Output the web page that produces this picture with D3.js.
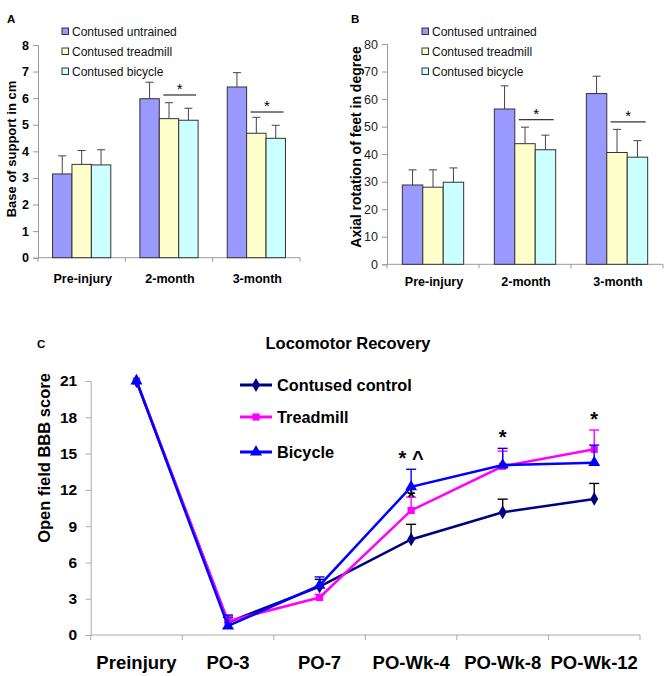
<!DOCTYPE html>
<html><head><meta charset="utf-8">
<script src="https://cdn.jsdelivr.net/npm/d3@7"></script>
<style>body{margin:0;background:#fff}svg{display:block}text{font-family:Arial,"Liberation Sans",sans-serif}</style>
</head><body>
<svg id="c" width="669" height="676"></svg>
<script>
// ---------- data ----------
const barCategories = ["Pre-injury", "2-month", "3-month"];
const barSeries = ["Contused untrained", "Contused treadmill", "Contused bicycle"];
const barColors = ["#9999FF", "#FFFFCC", "#CCFFFF"];

// Panel A: base of support (cm)
const supportUntrained = [3.15, 5.98, 6.42];
const supportUntrainedErr = [0.68, 0.62, 0.54];
const supportTreadmill = [3.51, 5.23, 4.68];
const supportTreadmillErr = [0.52, 0.60, 0.60];
const supportBicycle = [3.49, 5.17, 4.49];
const supportBicycleErr = [0.57, 0.45, 0.49];
const supportTicks = [0, 1, 2, 3, 4, 5, 6, 7, 8];
const supportSig = [{cat: "2-month", y: 6.12}, {cat: "3-month", y: 5.48}];

// Panel B: axial rotation of feet (degree)
const rotationUntrained = [28.8, 56.4, 62.0];
const rotationUntrainedErr = [5.5, 8.4, 6.3];
const rotationTreadmill = [28.0, 43.8, 40.6];
const rotationTreadmillErr = [6.3, 6.0, 8.4];
const rotationBicycle = [29.8, 41.6, 38.9];
const rotationBicycleErr = [5.2, 5.3, 6.0];
const rotationTicks = [0, 10, 20, 30, 40, 50, 60, 70, 80];
const rotationSig = [{cat: "2-month", y: 52.5}, {cat: "3-month", y: 51.7}];

// Panel C: BBB score
const timepoints = ["Preinjury", "PO-3", "PO-7", "PO-Wk-4", "PO-Wk-8", "PO-Wk-12"];
const lineSeries = ["Contused control", "Treadmill", "Bicycle"];
const lineColors = ["#000080", "#FF00FF", "#0000FF"];
const controlScore = [21, 1.05, 4.0, 7.9, 10.15, 11.25];
const controlErr = [0, 0.4, 0.6, 1.25, 1.08, 1.28];
const treadmillScore = [21, 1.15, 3.1, 10.3, 13.95, 15.35];
const treadmillErr = [0, 0.4, 0.25, 1.1, 1.25, 1.6];
const bicycleScore = [21, 0.75, 4.1, 12.25, 14.05, 14.25];
const bicycleErr = [0, 0.9, 0.7, 1.45, 1.38, 1.45];
const bbbTicks = [0, 3, 6, 9, 12, 15, 18, 21];
const bbbMarks = [
  {t: "PO-Wk-4", text: "* ^", v: 14.07},
  {t: "PO-Wk-4", text: "*", v: 10.82},
  {t: "PO-Wk-8", text: "*", v: 15.78},
  {t: "PO-Wk-12", text: "*", v: 17.32}
];

const svg = d3.select("#c");
const FONT = 'Arial,"Liberation Sans",sans-serif';

// ---------- bar panel ----------
function barPanel(o) {
  const g = svg.append("g");
  const x = d3.scaleBand().domain(barCategories).range([o.x0, o.x1]).padding(0);
  const bw = x.bandwidth();
  const inner = d3.scaleBand().domain(barSeries).range([bw / 6, bw * 5 / 6]).padding(0);
  const y = d3.scaleLinear().domain([0, o.max]).range([o.yb, o.yt]);

  const ya = g.append("g").attr("transform", `translate(${o.x0},0)`)
    .call(d3.axisLeft(y).tickValues(o.ticks).tickSize(5).tickPadding(4).tickFormat(d3.format("d")));
  ya.select(".domain").attr("stroke", "#999");
  ya.selectAll(".tick line").attr("stroke", "#999");
  ya.selectAll(".tick text").attr("font-size", 12.5).attr("font-weight", o.tickWeight)
    .attr("fill", o.tickWeight === "bold" ? "#000" : "#222").style("font-family", FONT);

  const bounds = barCategories.map(c => x(c)).concat([o.x1]);
  g.append("line").attr("x1", o.x0).attr("x2", o.x1).attr("y1", o.yb).attr("y2", o.yb).attr("stroke", "#999");
  g.selectAll(".xt").data(bounds).join("line").attr("x1", d => d).attr("x2", d => d)
    .attr("y1", o.yb).attr("y2", o.yb + 4).attr("stroke", "#999");
  g.selectAll(".xl").data(barCategories).join("text")
    .attr("x", d => x(d) + bw / 2 + 1).attr("y", o.labelY).attr("text-anchor", "middle")
    .attr("font-size", 12.5).attr("font-weight", "bold").text(d => d);

  o.series.forEach((s, si) => {
    const name = barSeries[si];
    const gs = g.append("g");
    gs.selectAll("rect").data(s.vals).join("rect")
      .attr("x", (d, i) => x(barCategories[i]) + inner(name))
      .attr("y", d => y(d)).attr("width", inner.bandwidth()).attr("height", d => o.yb - y(d))
      .attr("fill", barColors[si]).attr("stroke", "#333").attr("stroke-width", 1);
    s.vals.forEach((v, i) => {
      const cx = x(barCategories[i]) + inner(name) + inner.bandwidth() / 2;
      const top = y(v + s.err[i]);
      gs.append("line").attr("x1", cx).attr("x2", cx).attr("y1", y(v)).attr("y2", top).attr("stroke", "#444");
      gs.append("line").attr("x1", cx - 4).attr("x2", cx + 4).attr("y1", top).attr("y2", top).attr("stroke", "#444");
    });
  });

  o.sig.forEach(sg => {
    const l = x(sg.cat) + inner(barSeries[1]) + 4;
    const r = x(sg.cat) + inner(barSeries[2]) + inner.bandwidth() - 2;
    g.append("line").attr("x1", l).attr("x2", r).attr("y1", y(sg.y)).attr("y2", y(sg.y)).attr("stroke", "#000");
    g.append("text").attr("x", (l + r) / 2).attr("y", y(sg.y) - 1).attr("text-anchor", "middle")
      .attr("font-size", 15).text("*");
  });

  barSeries.forEach((s, i) => {
    g.append("rect").attr("x", o.legX).attr("y", 28 + i * 20).attr("width", 6.5).attr("height", 6.5)
      .attr("fill", barColors[i]).attr("stroke", "#333");
    g.append("text").attr("x", o.legX + 10).attr("y", 35.5 + i * 20).attr("font-size", 12).attr("fill", "#111").text(s);
  });

  g.append("text").attr("x", o.panelX).attr("y", 23).attr("font-size", 11.5).attr("font-weight", "bold").text(o.panel);
  g.append("text").attr("transform", `translate(${o.ylabX},${o.ylabY}) rotate(-90)`).attr("text-anchor", "middle")
    .attr("font-size", o.ylabSize).attr("font-weight", "bold").text(o.ylabel);
}

barPanel({
  panel: "A", panelX: 7, x0: 38, x1: 300, yb: 257.7, yt: 45, max: 8, ticks: supportTicks, tickWeight: "bold",
  labelY: 283, legX: 62, ylabX: 16, ylabY: 149, ylabSize: 13, ylabel: "Base of support in cm",
  sig: supportSig,
  series: [{vals: supportUntrained, err: supportUntrainedErr}, {vals: supportTreadmill, err: supportTreadmillErr}, {vals: supportBicycle, err: supportBicycleErr}]
});
barPanel({
  panel: "B", panelX: 351, x0: 387, x1: 663, yb: 264.3, yt: 44, max: 80, ticks: rotationTicks, tickWeight: "normal",
  labelY: 286, legX: 422, ylabX: 361, ylabY: 147, ylabSize: 14, ylabel: "Axial rotation of feet in degree",
  sig: rotationSig,
  series: [{vals: rotationUntrained, err: rotationUntrainedErr}, {vals: rotationTreadmill, err: rotationTreadmillErr}, {vals: rotationBicycle, err: rotationBicycleErr}]
});

// ---------- line panel ----------
(function () {
  const g = svg.append("g");
  const x0 = 90.7, x1 = 640, yb = 635, yt = 381;
  const x = d3.scaleBand().domain(timepoints).range([x0, x1]).padding(0);
  const bw = x.bandwidth();
  const cx = t => x(t) + bw / 2;
  const y = d3.scaleLinear().domain([0, 21]).range([yb, yt]);

  const ya = g.append("g").attr("transform", `translate(${x0},0)`)
    .call(d3.axisLeft(y).tickValues(bbbTicks).tickSize(5).tickPadding(8.5));
  ya.select(".domain").attr("stroke", "#aaa");
  ya.selectAll(".tick line").attr("stroke", "#aaa");
  ya.selectAll(".tick text").attr("font-size", 15.5).attr("font-weight", "bold").attr("fill", "#000").style("font-family", FONT);

  const bounds = timepoints.map(t => x(t)).concat([x1]);
  g.append("line").attr("x1", x0).attr("x2", x1).attr("y1", yb).attr("y2", yb).attr("stroke", "#aaa");
  g.selectAll(".xt").data(bounds).join("line").attr("x1", d => d).attr("x2", d => d)
    .attr("y1", yb).attr("y2", yb + 5).attr("stroke", "#aaa");
  g.selectAll(".xl").data(timepoints).join("text")
    .attr("x", d => cx(d)).attr("y", 669).attr("text-anchor", "middle")
    .attr("font-size", 18.5).attr("font-weight", "bold").text(d => d);

  const series = [
    {vals: controlScore, err: controlErr, sym: d3.symbolDiamond, size: 55},
    {vals: treadmillScore, err: treadmillErr, sym: d3.symbolSquare, size: 52},
    {vals: bicycleScore, err: bicycleErr, sym: d3.symbolTriangle, size: 62}
  ];
  const line = d3.line().x((d, i) => cx(timepoints[i])).y(d => y(d));
  series.forEach((s, si) => {
    const col = lineColors[si];
    const gs = g.append("g");
    s.vals.forEach((v, i) => {
      if (s.err[i] <= 0) return;
      const px = cx(timepoints[i]), top = y(v + s.err[i]);
      const ec = si === 0 ? "#000" : col;
      gs.append("line").attr("x1", px).attr("x2", px).attr("y1", y(v)).attr("y2", top).attr("stroke", ec).attr("stroke-width", 1.4);
      gs.append("line").attr("x1", px - 5).attr("x2", px + 5).attr("y1", top).attr("y2", top).attr("stroke", ec).attr("stroke-width", 1.4);
    });
    gs.append("path").datum(s.vals).attr("d", line).attr("fill", "none").attr("stroke", col).attr("stroke-width", 2.5);
    gs.selectAll("path.m").data(s.vals).join("path").attr("class", "m")
      .attr("transform", (d, i) => `translate(${cx(timepoints[i])},${y(d)})`)
      .attr("d", d3.symbol().type(s.sym).size(s.size)).attr("fill", col);
  });

  bbbMarks.forEach(m => {
    g.append("text").attr("x", cx(m.t)).attr("y", y(m.v)).attr("text-anchor", "middle")
      .attr("font-size", 20).attr("font-weight", "bold").attr("fill", "#000").style("white-space", "pre").text(m.text);
  });

  lineSeries.forEach((s, i) => {
    const ly = [385, 417, 452][i];
    g.append("line").attr("x1", 240).attr("x2", 272).attr("y1", ly).attr("y2", ly).attr("stroke", lineColors[i]).attr("stroke-width", 3);
    g.append("path").attr("transform", `translate(256,${ly})`).attr("d", d3.symbol().type(series[i].sym).size(series[i].size)).attr("fill", lineColors[i]);
    g.append("text").attr("x", 277).attr("y", ly + 6).attr("font-size", 16.3).attr("font-weight", "bold").text(s);
  });

  g.append("text").attr("x", 348).attr("y", 349).attr("text-anchor", "middle").attr("font-size", 16.5).attr("font-weight", "bold").text("Locomotor Recovery");
  g.append("text").attr("x", 37).attr("y", 348).attr("font-size", 11.5).attr("font-weight", "bold").text("C");
  g.append("text").attr("transform", `translate(50,458) rotate(-90)`).attr("text-anchor", "middle")
    .attr("font-size", 16.5).attr("font-weight", "bold").text("Open field BBB score");
})();
</script>
</body></html>
